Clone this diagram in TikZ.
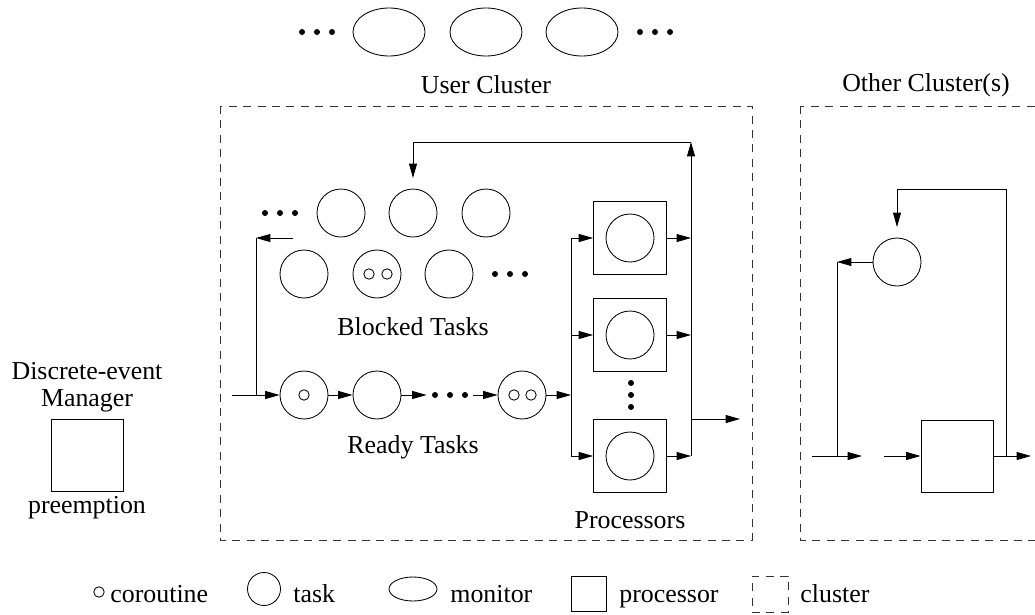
\documentclass[tikz,border=0pt]{standalone}
\usepackage{fontspec}
\setmainfont{Liberation Serif}
\usetikzlibrary{arrows.meta,shapes.geometric}

\tikzset{
  task/.style={draw,circle,minimum size=12mm,inner sep=0pt},
  corout/.style={draw,circle,minimum size=2.6mm,inner sep=0pt},
  monitor/.style={draw,ellipse,minimum width=18mm,minimum height=12mm,inner sep=0pt},
  procbox/.style={draw,minimum size=18.25mm,inner sep=0pt},
  flow/.style={-{Triangle[length=3.6mm,width=2mm]}},
  clusterbox/.style={draw=black!80,dash pattern=on 2mm off 1.6mm},
  ltext/.style={anchor=base west,inner sep=0pt}
}
\newcommand{\dotrow}[2]{\foreach \d in {-15,0,15}{\fill (#1+\d,#2) circle (0.75mm);}}
\newcommand{\dotcol}[2]{\foreach \d in {-12,0,12}{\fill (#1,#2+\d) circle (0.75mm);}}

\begin{document}
\begin{tikzpicture}[x=0.25mm,y=-0.25mm,line width=0.6pt,font=\fontsize{18.4}{16}\selectfont]
\useasboundingbox (0,0) rectangle (1035,614);

% monitors
\dotrow{317}{32}
\node[monitor] (m1) at (389,32) {};
\node[monitor] (m2) at (486,32) {};
\node[monitor] (m3) at (582,32) {};
\dotrow{655}{32}

% clusters
\draw[clusterbox] (220,106) rectangle (752,540);
\draw[clusterbox] (800,106) rectangle (1045,540);
\node (ucl) at (486,85) {User Cluster};
\node (ocl) at (926,85) {Other Cluster(s)};

% blocked tasks
\dotrow{280}{213}
\node[task] (b1) at (341,213) {};
\node[task] (b2) at (413,213) {};
\node[task] (b3) at (486,213) {};
\node[task] (b4) at (304,274) {};
\node[task] (b5) at (377,274) {};
\node[corout] (b5a) at (369,274) {};
\node[corout] (b5b) at (387,274) {};
\node[task] (b6) at (449,274) {};
\dotrow{510}{274}
\node (blk) at (413,327) {Blocked Tasks};

% ready tasks
\coordinate (in) at (232,395);
\coordinate (bk) at (256,238);
\coordinate (bs) at (293,238);
\node[task] (r1) at (304,395) {};
\node[corout] (r1a) at (304,395) {};
\node[task] (r2) at (377,395) {};
\node[minimum width=11.5mm,inner sep=0pt] (rdots) at (450,395) {};
\dotrow{450}{395}
\node[task] (r4) at (522,395) {};
\node[corout] (r4a) at (514,395) {};
\node[corout] (r4b) at (531,395) {};
\node (rdy) at (413,447) {Ready Tasks};

\draw[flow] (in) -- (r1);
\draw[flow] (bs) -- (bk);
\draw (bk) -- (bk |- r1);
\draw[flow] (r1) -- (r2);
\draw[flow] (r2) -- (rdots);
\draw[flow] (rdots) -- (r4);
\coordinate (bus) at (571,395);
\draw[flow] (r4) -- (bus);

% processors
\node[procbox] (p1) at (630,238) {};
\node[task] (p1t) at (p1) {};
\node[procbox] (p2) at (630,335) {};
\node[task] (p2t) at (p2) {};
\node[procbox] (p3) at (630,456) {};
\node[task] (p3t) at (p3) {};
\dotcol{631}{395}
\node (prc) at (630,520) {Processors};

\coordinate (obus) at (691,142);
\coordinate (back) at (413,178);
\coordinate (exit) at (740,419);
\draw (bus |- p1) -- (bus |- p3);
\draw[flow] (bus |- p1) -- (p1);
\draw[flow] (bus |- p2) -- (p2);
\draw[flow] (bus |- p3) -- (p3);
\draw[flow] (p1) -- (p1 -| obus);
\draw[flow] (p2) -- (p2 -| obus);
\draw[flow] (p3) -- (p3 -| obus);
\draw[flow] (p3 -| obus) -- (obus);
\draw[flow] (obus) -| (back);
\draw[flow] (exit -| obus) -- (exit);

% discrete-event manager
\node[anchor=base,inner sep=0pt] (dem1) at (87,379) {Discrete-event};
\node[anchor=base,inner sep=0pt] (dem2) at (87,406) {Manager};
\node[draw,minimum size=18mm,inner sep=0pt] (mgr) at (87,455) {};
\node (pre) at (87,508) {preemption};

% other cluster
\node[task] (oc) at (897,262) {};
\node[draw,minimum size=18mm,inner sep=0pt] (obox) at (957,456) {};
\coordinate (oin) at (812,456);
\coordinate (oj) at (837,456);
\coordinate (oa) at (862,456);
\coordinate (ob) at (884,456);
\coordinate (oexit) at (1031,456);
\coordinate (otop) at (1006,189);
\coordinate (oback) at (897,227);
\draw[flow] (oc) -- (oc -| oj);
\draw (oc -| oj) -- (oj);
\draw[flow] (oin) -- (oa);
\draw[flow] (ob) -- (obox);
\draw[flow] (obox) -- (oexit);
\draw[flow] (obox.east -| otop) -- (otop) -| (oback);

% legend
\node[corout] (lcor) at (99,592) {};
\node[ltext] (lcort) at (110,602) {coroutine};
\node[draw,circle,minimum size=8.25mm,inner sep=0pt] (ltask) at (264,589) {};
\node[ltext] (ltaskt) at (293,602) {task};
\node[draw,ellipse,minimum width=12mm,minimum height=6mm,inner sep=0pt] (lmon) at (413,589) {};
\node[ltext] (lmont) at (450,602) {monitor};
\node[draw,minimum size=8.75mm,inner sep=0pt] (lproc) at (589,594) {};
\node[ltext] (lproct) at (619,602) {processor};
\node[clusterbox,minimum size=9mm,inner sep=0pt] (lclu) at (770,594) {};
\node[ltext] (lclut) at (800,602) {cluster};
\end{tikzpicture}
\end{document}
